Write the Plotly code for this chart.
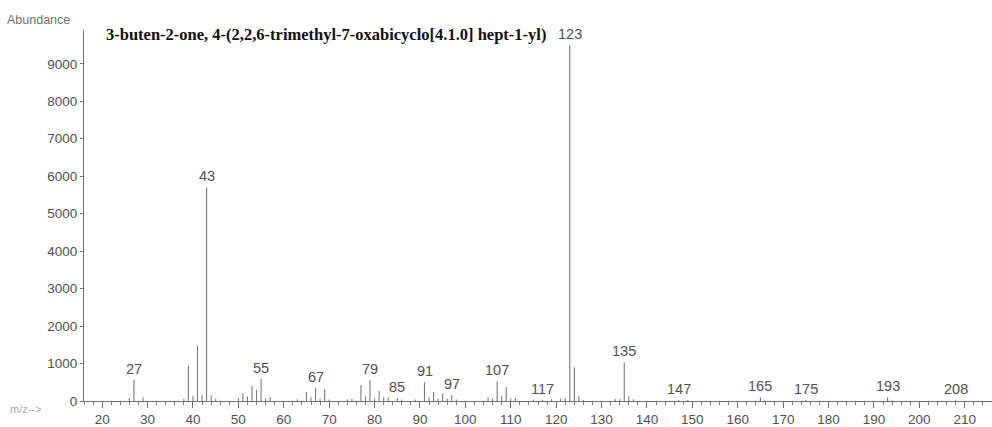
import plotly.graph_objects as go

# Mass spectrum: m/z values and abundances
mz = [26, 27, 29, 38, 39, 40, 41, 42, 43, 44, 45,
      50, 51, 52, 53, 54, 55, 56, 57,
      63, 65, 66, 67, 68, 69, 70,
      74, 75, 77, 78, 79, 80, 81, 82, 83,
      85, 86, 89, 91, 92, 93, 94, 95, 96, 97, 98,
      105, 106, 107, 108, 109, 110, 111,
      115, 117, 119, 121, 122, 123, 124, 125, 126,
      133, 134, 135, 136, 137,
      147, 149, 165, 166, 175, 193, 194, 208]
abundance = [80, 560, 100, 60, 950, 130, 1480, 160, 5700, 150, 60,
             80, 210, 120, 400, 300, 600, 60, 100,
             50, 240, 100, 350, 60, 320, 40,
             40, 60, 430, 120, 560, 60, 270, 100, 100,
             80, 40, 40, 500, 100, 240, 60, 200, 60, 160, 40,
             100, 60, 530, 130, 370, 60, 90,
             40, 30, 50, 60, 80, 9500, 900, 130, 30,
             60, 50, 1030, 130, 50,
             30, 30, 100, 20, 25, 100, 20, 20]

# m/z values that carry a text label
labelled_mz = [27, 43, 55, 67, 79, 85, 91, 97, 107, 117, 123, 135, 147, 165, 175, 193, 208]

title_text = "3-buten-2-one, 4-(2,2,6-trimethyl-7-oxabicyclo[4.1.0] hept-1-yl)"

W, H = 992, 427
ML, MR, MT, MB = 84, 0, 30, 24

# Stick spectrum: one vertical segment per peak
xs, ys = [], []
for m, a in zip(mz, abundance):
    xs += [m, m, None]
    ys += [0, a, None]

fig = go.Figure()
fig.add_trace(go.Scatter(x=xs, y=ys, mode="lines",
                         line=dict(color="#7a7a7a", width=1.1),
                         hoverinfo="skip", showlegend=False))

grey = "#505050"
font_sans = "Liberation Sans, Arial, sans-serif"

annotations = []
lookup = dict(zip(mz, abundance))
for m in labelled_mz:
    annotations.append(dict(x=m, y=lookup[m], xref="x", yref="y",
                            text=str(m), showarrow=False, yanchor="bottom",
                            yshift=1, font=dict(family=font_sans, size=14.5, color=grey)))


def px_x(p):
    return (p - ML) / (W - ML - MR)


def px_y(p):
    return (H - MB - p) / (H - MT - MB)


annotations.append(dict(x=px_x(104), y=px_y(35), xref="paper", yref="paper",
                        text="<b>" + title_text + "</b>", showarrow=False,
                        xanchor="left", yanchor="middle",
                        font=dict(family="Liberation Serif, Times New Roman, serif",
                                  size=16.5, color="#111111")))
annotations.append(dict(x=px_x(5), y=px_y(20), xref="paper", yref="paper",
                        text="Abundance", showarrow=False,
                        xanchor="left", yanchor="middle",
                        font=dict(family=font_sans, size=12.5, color="#707070")))
annotations.append(dict(x=px_x(8), y=px_y(411), xref="paper", yref="paper",
                        text="m/z-->", showarrow=False,
                        xanchor="left", yanchor="middle",
                        font=dict(family=font_sans, size=11, color="#a8a8a8")))

fig.update_layout(
    width=W, height=H,
    margin=dict(l=ML, r=MR, t=MT, b=MB, pad=0),
    paper_bgcolor="white", plot_bgcolor="white",
    annotations=annotations,
    xaxis=dict(range=[16.0, 216.0], tickmode="linear", tick0=20, dtick=10,
               ticks="outside", ticklen=6, tickcolor="#707070", tickwidth=1,
               minor=dict(dtick=2, tick0=20, ticks="outside", ticklen=3,
                          tickcolor="#808080", showgrid=False),
               showline=True, linecolor="#707070", linewidth=1,
               showgrid=False, zeroline=False,
               tickfont=dict(family=font_sans, size=13.5, color=grey)),
    yaxis=dict(range=[0, 9902], tickmode="linear", tick0=0, dtick=1000,
               tickformat="d",
               ticks="outside", ticklen=3, tickcolor="#707070",
               showline=True, linecolor="#707070", linewidth=1,
               showgrid=False, zeroline=False,
               tickfont=dict(family=font_sans, size=13.5, color=grey)),
)

fig.write_html("out.html")
